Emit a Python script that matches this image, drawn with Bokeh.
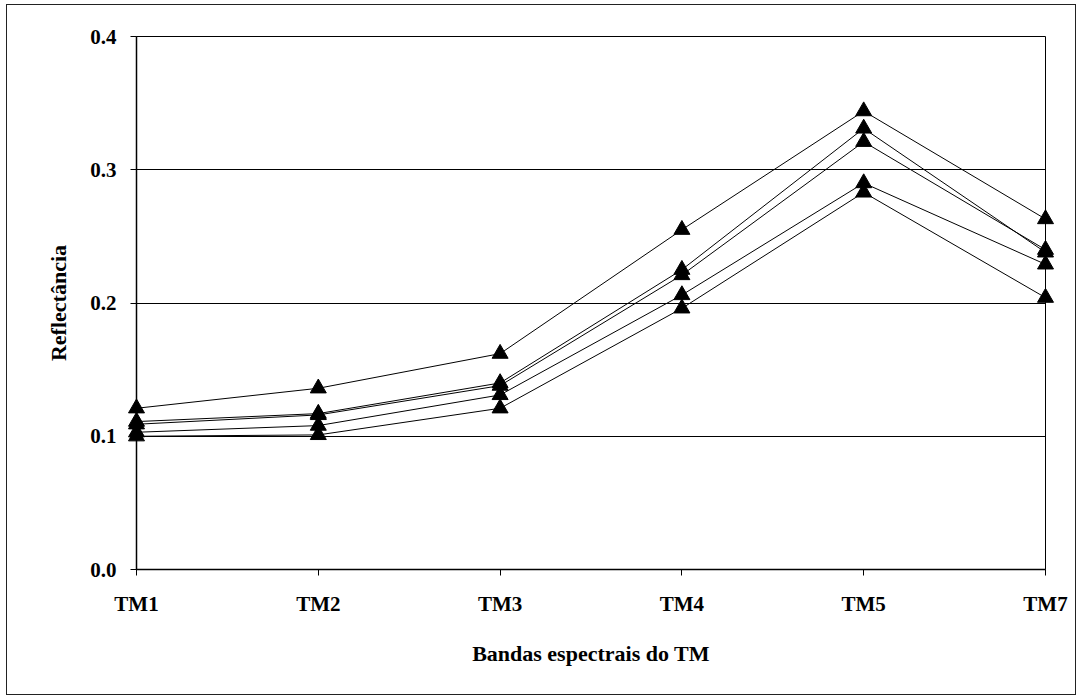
from bokeh.plotting import figure
from bokeh.models import FixedTicker, NumeralTickFormatter, Range1d
from bokeh.embed import file_html
from bokeh.resources import INLINE

bands = ["TM1", "TM2", "TM3", "TM4", "TM5", "TM7"]
serie_1 = [0.121, 0.136, 0.162, 0.255, 0.344, 0.263]
serie_2 = [0.111, 0.117, 0.140, 0.225, 0.331, 0.238]
serie_3 = [0.109, 0.116, 0.138, 0.221, 0.321, 0.240]
serie_4 = [0.103, 0.108, 0.131, 0.206, 0.290, 0.229]
serie_5 = [0.100, 0.101, 0.121, 0.196, 0.283, 0.204]
series = [serie_1, serie_2, serie_3, serie_4, serie_5]
y_ticks = [0.0, 0.1, 0.2, 0.3, 0.4]

xs = list(range(len(bands)))

p = figure(width=1068, height=689, output_backend="svg", toolbar_location=None,
           x_range=Range1d(0, len(bands) - 1), y_range=Range1d(0, 0.4),
           min_border_left=129, min_border_right=30, min_border_top=31,
           min_border_bottom=125)
p.margin = (5, 0, 0, 7)
p.styles = {"outline": "1px solid #222"}
p.outline_line_color = "black"
p.outline_line_width = 1
p.background_fill_color = "white"
p.border_fill_color = "white"

for s in series:
    p.line(xs, s, line_color="black", line_width=1, level="overlay")
    p.scatter(xs, s, marker="triangle", size=16, fill_color="black",
              line_color="black", level="overlay")

font = "'Liberation Serif', 'Times New Roman', serif"
p.xaxis.ticker = FixedTicker(ticks=xs)
p.xaxis.major_label_overrides = {i: b for i, b in enumerate(bands)}
p.yaxis.ticker = FixedTicker(ticks=y_ticks)
p.yaxis.formatter = NumeralTickFormatter(format="0.0")
p.xgrid.visible = False
p.ygrid.ticker = FixedTicker(ticks=y_ticks)
p.ygrid.grid_line_color = "black"
p.ygrid.grid_line_width = 1

for ax in (p.xaxis[0], p.yaxis[0]):
    ax.axis_line_color = "black"
    ax.axis_line_width = 1.5
    ax.major_tick_line_color = "black"
    ax.major_tick_out = 6
    ax.major_tick_in = 0
    ax.minor_tick_line_color = None
    ax.major_label_text_font = font
    ax.major_label_text_font_style = "bold"
    ax.major_label_text_font_size = "21px"
    ax.major_label_text_color = "black"
    ax.axis_label_text_font = font
    ax.axis_label_text_font_style = "bold"
    ax.axis_label_text_font_size = "22px"
    ax.axis_label_text_color = "black"

p.xaxis.axis_label = "Bandas espectrais do TM"
p.yaxis.axis_label = "Reflectância"
p.xaxis.major_label_standoff = 16
p.xaxis.axis_label_standoff = 22
p.yaxis.major_label_standoff = 14
p.yaxis.axis_label_standoff = 16

open("out.html", "w").write(file_html(p, INLINE))
